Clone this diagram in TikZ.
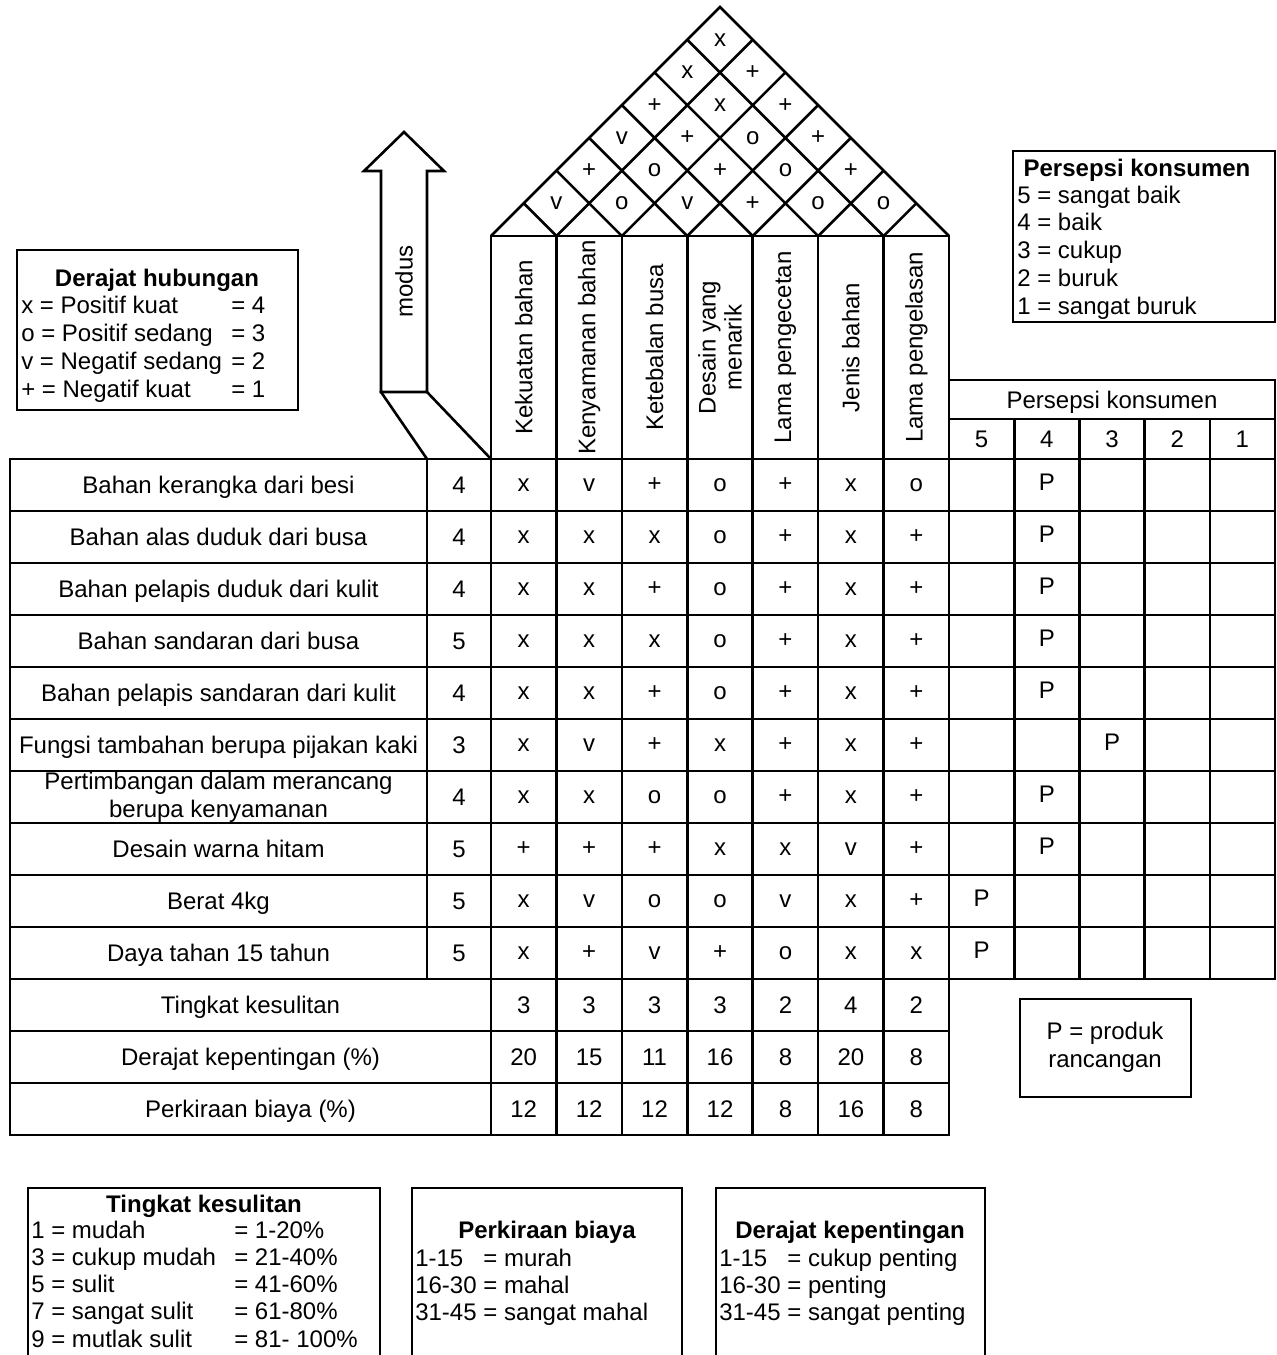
\documentclass[tikz,border=0pt]{standalone}
\usepackage{fontspec}
\setmainfont{Liberation Sans}
\begin{document}
\begin{tikzpicture}[x=0.5pt,y=-0.5pt,line width=1.3pt,line cap=rect,
  txt/.style={inner sep=0pt,font=\fontsize{12}{14}\selectfont},
  celltxt/.style={txt,text height=8.6pt,text depth=0pt},
  legtitle/.style={txt,font=\fontsize{12}{14}\selectfont\bfseries,anchor=base},
  legline/.style={txt,anchor=base west},
  colhead/.style={txt,rotate=90,align=center,font=\fontsize{12}{13}\selectfont},
  roofline/.style={line cap=butt}]
\useasboundingbox (0,0) rectangle (1277,1355);

% roof
\draw[roofline] (491,236) -- (720,7) -- (949,236);
\foreach \k in {1,...,6}{
  \pgfmathsetmacro\bx{491+65.43*\k}
  \draw[roofline] (\bx,236) -- ++({(949-\bx)/2},{-(949-\bx)/2});
  \draw[roofline] (\bx,236) -- ++({-(\bx-491)/2},{-(\bx-491)/2});
}
\foreach \i/\j/\s [count=\n] in {0/1/v,1/2/o,2/3/v,3/4/+,4/5/o,5/6/o,
    0/2/+,1/3/o,2/4/+,3/5/o,4/6/+,
    0/3/v,1/4/+,2/5/o,3/6/+,
    0/4/+,1/5/x,2/6/+,
    0/5/x,1/6/+,
    0/6/x}
  \node[txt] (roof\n) at ({491+65.43*((\i+\j)/2+0.5)},{236-65.43*(\j-\i)/2}) {\s};

% column headers
\draw (491,236) -- (949,236);
\foreach \t [count=\c] in {Kekuatan bahan,Kenyamanan bahan,Ketebalan busa,{Desain yang\\menarik},Lama pengecetan,Jenis bahan,Lama pengelasan}
  \node[colhead] (col\c) at ({491+65.43*(\c-0.5)},347.5) {\t};

% modus arrow
\draw (381,392) -- (381,171) -- (364,171) -- (404,132) -- (444,171) -- (427,171) -- (427,392) -- cycle;
\draw (381,392) -- (427,459);
\draw (427,392) -- (491,459);
\node[txt,rotate=90] (modus) at (404,281.5) {modus};

% grid
\foreach \k in {0,...,7} \draw ({491+65.43*\k},236) -- ({491+65.43*\k},1135);
\draw (10,459) -- (10,1135);
\draw (427,459) -- (427,979);
\foreach \k in {0,...,13} \draw (10,{459+52*\k}) -- (949,{459+52*\k});

% persepsi konsumen
\draw (949,380) -- (1275,380) -- (1275,979);
\draw (949,419) -- (1275,419);
\foreach \k in {1,...,4} \draw ({949+65.2*\k},419) -- ({949+65.2*\k},979);
\foreach \k in {0,...,10} \draw (949,{459+52*\k}) -- (1275,{459+52*\k});
\node[celltxt] (pk) at (1112,399.5) {Persepsi konsumen};
\foreach \v [count=\k] in {5,4,3,2,1}
  \node[celltxt] (pk\v) at ({949+65.2*(\k-0.5)},439) {\v};

% requirement rows
\foreach \r/\req/\imp/\vals/\p in {
  1/{Bahan kerangka dari besi}/4/{x,v,+,o,+,x,o}/2,
  2/{Bahan alas duduk dari busa}/4/{x,x,x,o,+,x,+}/2,
  3/{Bahan pelapis duduk dari kulit}/4/{x,x,+,o,+,x,+}/2,
  4/{Bahan sandaran dari busa}/5/{x,x,x,o,+,x,+}/2,
  5/{Bahan pelapis sandaran dari kulit}/4/{x,x,+,o,+,x,+}/2,
  6/{Fungsi tambahan berupa pijakan kaki}/3/{x,v,+,x,+,x,+}/3,
  8/{Desain warna hitam}/5/{+,+,+,x,x,v,+}/2,
  9/{Berat 4kg}/5/{x,v,o,o,v,x,+}/1,
  10/{Daya tahan 15 tahun}/5/{x,+,v,+,o,x,x}/1}{
  \pgfmathsetmacro\ry{459+52*(\r-0.5)}
  \node[celltxt] (req\r) at (218.5,\ry) {\req};
  \node[celltxt] (imp\r) at (459,\ry) {\imp};
  \foreach \s [count=\c] in \vals
    \node[txt] (m\r-\c) at ({491+65.43*(\c-0.5)},\ry) {\s};
  \node[txt] (p\r) at ({949+65.2*(\p-0.5)},{\ry-3}) {P};
}
% two-line requirement
\node[txt,align=center] (req7) at (218.5,797) {Pertimbangan dalam merancang\\berupa kenyamanan};
\node[celltxt] (imp7) at (459,797) {4};
\foreach \s [count=\c] in {x,x,o,o,+,x,+}
  \node[txt] (m7-\c) at ({491+65.43*(\c-0.5)},797) {\s};
\node[txt] (p7) at ({949+65.2*1.5},794) {P};

% bottom rows
\foreach \r/\lab/\vals in {
  11/{Tingkat kesulitan}/{3,3,3,3,2,4,2},
  12/{Derajat kepentingan (\%)}/{20,15,11,16,8,20,8},
  13/{Perkiraan biaya (\%)}/{12,12,12,12,8,16,8}}{
  \pgfmathsetmacro\ry{459+52*(\r-0.5)}
  \node[celltxt] (lab\r) at (250.5,\ry) {\lab};
  \foreach \s [count=\c] in \vals
    \node[celltxt] (m\r-\c) at ({491+65.43*(\c-0.5)},\ry) {\s};
}

% legend: derajat hubungan
\draw (17,250) rectangle (298,410);
\node[legtitle] (dhtitle) at (157,286) {Derajat hubungan};
\foreach \a/\b [count=\k] in {x = Positif kuat/= 4,o = Positif sedang/= 3,v = Negatif sedang/= 2,+ = Negatif kuat/= 1}{
  \node[legline] (dh\k) at (20,{313+28*(\k-1)}) {\a};
  \node[legline] (dhv\k) at (230,{313+28*(\k-1)}) {\b};
}

% legend: persepsi konsumen
\draw (1013,151) rectangle (1275,322);
\node[legtitle] (pktitle) at (1137,176) {Persepsi konsumen};
\foreach \a [count=\k] in {5 = sangat baik,4 = baik,3 = cukup,2 = buruk,1 = sangat buruk}
  \node[legline] (pkl\k) at (1016,{203+27.8*(\k-1)}) {\a};

% legend: produk rancangan
\draw (1020,999) rectangle (1191,1097);
\node[txt,align=center] (prod) at (1105,1047) {P = produk\\rancangan};

% legend: tingkat kesulitan
\draw (28,1362) -- (28,1188) -- (380,1188) -- (380,1362);
\node[legtitle] (tktitle) at (204,1212) {Tingkat kesulitan};
\foreach \a/\b [count=\k] in {1 = mudah/= 1-20\%,3 = cukup mudah/= 21-40\%,5 = sulit/= 41-60\%,7 = sangat sulit/= 61-80\%,9 = mutlak sulit/= 81- 100\%}{
  \node[legline] (tk\k) at (30,{1238+27.3*(\k-1)}) {\a};
  \node[legline] (tkv\k) at (233,{1238+27.3*(\k-1)}) {\b};
}

% legend: perkiraan biaya
\draw (412,1362) -- (412,1188) -- (682,1188) -- (682,1362);
\node[legtitle] (pbtitle) at (547,1238) {Perkiraan biaya};
\foreach \a [count=\k] in {1-15\ \ \ = murah,16-30 = mahal,31-45 = sangat mahal}
  \node[legline] (pb\k) at (414,{1266+27.3*(\k-1)}) {\a};

% legend: derajat kepentingan
\draw (716,1362) -- (716,1188) -- (985,1188) -- (985,1362);
\node[legtitle] (dktitle) at (850,1238) {Derajat kepentingan};
\foreach \a [count=\k] in {1-15\ \ \ = cukup penting,16-30 = penting,31-45 = sangat penting}
  \node[legline] (dk\k) at (718,{1266+27.3*(\k-1)}) {\a};
\end{tikzpicture}
\end{document}
